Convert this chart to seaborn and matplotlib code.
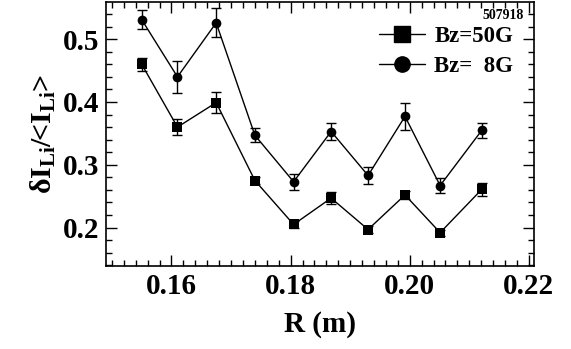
import matplotlib
matplotlib.use("Agg")
import matplotlib.pyplot as plt
import seaborn as sns
import pandas as pd
from matplotlib.ticker import MultipleLocator, FormatStrFormatter
from matplotlib.lines import Line2D

R = [0.155, 0.161, 0.1675, 0.174, 0.1805, 0.1868, 0.193, 0.1992, 0.2051, 0.2121]
bz50 = [0.460, 0.360, 0.399, 0.275, 0.205, 0.247, 0.197, 0.252, 0.192, 0.261]
bz50_err = [0.010, 0.013, 0.017, 0.005, 0.005, 0.010, 0.005, 0.006, 0.005, 0.010]
bz8 = [0.531, 0.440, 0.526, 0.347, 0.273, 0.353, 0.283, 0.377, 0.267, 0.355]
bz8_err = [0.015, 0.025, 0.023, 0.011, 0.013, 0.013, 0.014, 0.022, 0.012, 0.012]
labels = ["Bz=50G", "Bz=  8G"]

df = pd.DataFrame({
    "R": R + R,
    "val": bz50 + bz8,
    "err": bz50_err + bz8_err,
    "series": [labels[0]] * len(R) + [labels[1]] * len(R),
})

sns.set_style("ticks")
FAM = "Liberation Serif"
plt.rcParams["font.family"] = [FAM, "DejaVu Serif"]
plt.rcParams["font.weight"] = "bold"
plt.rcParams["mathtext.fontset"] = "custom"
plt.rcParams["mathtext.rm"] = "Liberation Serif:bold"
plt.rcParams["mathtext.it"] = "Liberation Serif:bold"
plt.rcParams["mathtext.bf"] = "Liberation Serif:bold"
for k in ["text.color", "axes.labelcolor", "xtick.color", "ytick.color",
          "axes.edgecolor"]:
    plt.rcParams[k] = "black"

fig = plt.figure(figsize=(5.71, 3.49), dpi=100)
ax = fig.add_axes([0.1856, 0.238, 0.749, 0.756])

sns.lineplot(data=df, x="R", y="val", hue="series", style="series",
             markers={labels[0]: "s", labels[1]: "o"}, dashes=False,
             palette={labels[0]: "black", labels[1]: "black"},
             markersize=7, linewidth=1.0, markeredgewidth=0, ax=ax,
             legend=False, sort=False)
for lab in labels:
    sub = df[df.series == lab]
    ax.errorbar(sub.R, sub.val, yerr=sub.err, fmt="none", ecolor="black",
                elinewidth=1.0, capsize=3.5, capthick=1.0)

ax.set_xlim(0.149, 0.2208)
ax.set_ylim(0.139, 0.559)
ax.xaxis.set_major_locator(MultipleLocator(0.02))
ax.xaxis.set_minor_locator(MultipleLocator(0.002))
ax.yaxis.set_major_locator(MultipleLocator(0.1))
ax.yaxis.set_minor_locator(MultipleLocator(0.02))
ax.xaxis.set_major_formatter(FormatStrFormatter("%.2f"))
ax.yaxis.set_major_formatter(FormatStrFormatter("%.1f"))
ax.tick_params(which="both", direction="in", top=True, right=True, width=1.0,
               color="black", labelcolor="black")
ax.tick_params(which="major", length=8, labelsize=21, pad=5)
ax.tick_params(which="minor", length=4)
for s in ax.spines.values():
    s.set_linewidth(1.2)
    s.set_color("black")
for t in ax.get_xticklabels() + ax.get_yticklabels():
    t.set_fontweight("bold")
    t.set_family(FAM)

ax.set_xlabel("R (m)", fontsize=21, fontweight="bold", family=FAM, labelpad=8,
              color="black")
ax.set_ylabel(r"$\delta$I$_{\mathrm{Li}}$/<I$_{\mathrm{Li}}$>", fontsize=21.5,
              fontweight="bold", family=FAM, labelpad=3, color="black")

handles = [Line2D([], [], color="black", marker="s", markersize=11, lw=1.0),
           Line2D([], [], color="black", marker="o", markersize=11, lw=1.0)]
leg = ax.legend(handles, labels, loc="upper right", frameon=False,
                prop={"weight": "bold", "size": 16.5, "family": FAM},
                handlelength=2.0, handletextpad=0.4, borderaxespad=0.3,
                bbox_to_anchor=(0.99, 0.97), labelspacing=0.4)
for t in leg.get_texts():
    t.set_color("black")
ax.text(0.977, 0.972, "507918", transform=ax.transAxes, ha="right", va="top",
        fontsize=10, fontweight="bold", family=FAM, color="black")

fig.savefig("out.png", dpi=100)
